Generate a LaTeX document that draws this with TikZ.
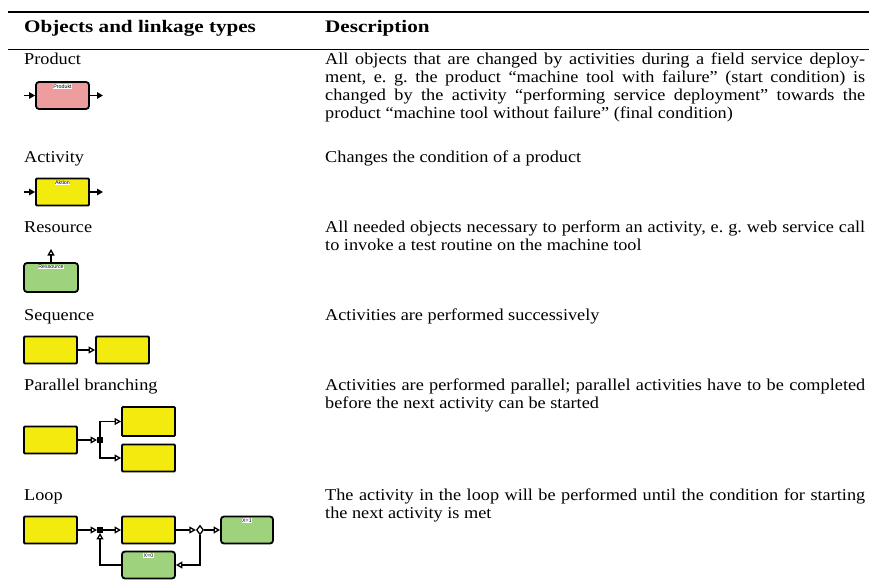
\documentclass[tikz,border=0pt]{standalone}
\usepackage{fontspec}
\setmainfont{Liberation Serif}[FakeStretch=1.1]
\newfontfamily\headfont{Liberation Serif}[FakeStretch=1.2]
\newfontfamily\labelfont{Liberation Sans}
\usetikzlibrary{arrows.meta,shapes.geometric}

\definecolor{prodpink}{RGB}{238,157,158}
\definecolor{actyellow}{RGB}{243,234,14}
\definecolor{resgreen}{RGB}{158,210,124}

\newcommand{\jline}[1]{\makebox[540pt][s]{#1}}

\tikzset{
  body/.style={anchor=base west, inner sep=0pt, font=\fontsize{16.6}{18}\selectfont\frenchspacing},
  head/.style={anchor=base west, inner sep=0pt, font=\fontsize{17.6}{18}\headfont\bfseries},
  actbox/.style={draw=black, line width=1.8pt, fill=actyellow, minimum width=53pt, minimum height=27pt, inner sep=0pt, rounded corners=1pt},
  prodbox/.style={actbox, fill=prodpink, rounded corners=3pt},
  resbox/.style={actbox, fill=resgreen, rounded corners=3pt},
  tag/.style={fill=white, inner sep=0.4pt, font=\fontsize{5.3}{5.5}\selectfont\labelfont},
  link/.style={line width=1.4pt},
  openarrow/.style={link, -{Triangle[open, length=6.5pt, width=7pt, line width=1.3pt]}},
  fillarrow/.style={link, -{Triangle[length=6pt, width=6.5pt]}},
  andjoin/.style={fill=black, minimum size=5.5pt, inner sep=0pt},
  xorjoin/.style={draw=black, fill=white, line width=1.3pt, diamond, minimum width=7pt, minimum height=9pt, inner sep=0pt},
}

\begin{document}
\begin{tikzpicture}[x=1pt, y=-1pt]
\useasboundingbox (0,0) rectangle (869,585);

% table rules and column heads
\coordinate (ruleAl) at (8,12.5);
\coordinate (ruleAr) at (869,12.5);
\coordinate (ruleBl) at (8,49.5);
\coordinate (ruleBr) at (869,49.5);
\draw[line width=2pt] (ruleAl) -- (ruleAr);
\draw[line width=1.4pt] (ruleBl) -- (ruleBr);
\node[head] (h1) at (24,33) {Objects and linkage types};
\node[head] (h2) at (325,33) {Description};

% left column labels
\node[body] (lProd) at (24,65) {Product};
\node[body] (lAct) at (24,163) {Activity};
\node[body] (lRes) at (24,233) {Resource};
\node[body] (lSeq) at (24,320) {Sequence};
\node[body] (lPar) at (24,390) {Parallel branching};
\node[body] (lLoop) at (24,500) {Loop};

% descriptions
\node[body] (d1a) at (325,65) {\jline{All objects that are changed by activities during a field service deploy-}};
\node[body] (d1b) at (325,83) {\jline{ment, e. g. the product “machine tool with failure” (start condition) is}};
\node[body] (d1c) at (325,101) {\jline{changed by the activity “performing service deployment” towards the}};
\node[body] (d1d) at (325,119) {product “machine tool without failure” (final condition)};
\node[body] (d2) at (325,163) {Changes the condition of a product};
\node[body] (d3a) at (325,233) {\jline{All needed objects necessary to perform an activity, e. g. web service call}};
\node[body] (d3b) at (325,251) {to invoke a test routine on the machine tool};
\node[body] (d4) at (325,320) {Activities are performed successively};
\node[body] (d5a) at (325,390) {\jline{Activities are performed parallel; parallel activities have to be completed}};
\node[body] (d5b) at (325,408) {before the next activity can be started};
\node[body] (d6a) at (325,500) {\jline{The activity in the loop will be performed until the condition for starting}};
\node[body] (d6b) at (325,518) {the next activity is met};

% product
\node[prodbox] (prod) at (62.5,95.5) {};
\node[tag] (prodtag) at ([yshift=-5.5pt]prod.north) {Produkt};
\coordinate (prodin) at (24,95.5);
\coordinate (prodout) at (103,95.5);
\draw[fillarrow] (prodin) -- (prod.west);
\draw[fillarrow] (prod.east) -- (prodout);

% activity
\node[actbox] (act) at (62.5,192) {};
\node[tag] (acttag) at ([yshift=-5.5pt]act.north) {Aktion};
\coordinate (actin) at (24,192);
\coordinate (actout) at (103,192);
\draw[fillarrow] (actin) -- (act.west);
\draw[fillarrow] (act.east) -- (actout);

% resource
\node[resbox, minimum width=54pt, minimum height=29pt] (res) at (51,277.5) {};
\node[tag] (restag) at ([yshift=-5pt]res.north) {Ressource};
\coordinate (resup) at (51,249);
\draw[openarrow] (res.north) -- (resup);

% sequence
\node[actbox] (seqA) at (50.5,350) {};
\node[actbox] (seqB) at (122.5,350) {};
\draw[openarrow] (seqA) -- (seqB);

% parallel branching
\node[actbox] (parA) at (50.5,440) {};
\node[actbox, minimum height=29pt] (parB) at (148.5,421.5) {};
\node[actbox] (parC) at (148.5,458) {};
\node[andjoin] (parJ) at (100,440) {};
\draw[openarrow] (parA) -- (parJ);
\draw[openarrow] (parJ) |- (parB.west);
\draw[openarrow] (parJ) |- (parC.west);

% loop
\node[actbox] (loopA) at (50.5,530) {};
\node[andjoin] (loopJ) at (100,530) {};
\node[actbox] (loopB) at (148.5,530) {};
\node[xorjoin] (loopX) at (200,530) {};
\node[resbox, minimum width=52pt] (loopC) at (247,530) {};
\node[tag] (loopCtag) at ([yshift=-5pt]loopC.north) {X=1};
\node[resbox] (loopD) at (148.5,565) {};
\node[tag] (loopDtag) at ([yshift=-5pt]loopD.north) {X=0};
\draw[openarrow] (loopA) -- (loopJ);
\draw[openarrow] (loopJ) -- (loopB);
\draw[openarrow] (loopB) -- (loopX);
\draw[openarrow] (loopX) -- (loopC);
\draw[openarrow] (loopX) |- (loopD.east);
\draw[openarrow] (loopD.west) -| (loopJ);
\end{tikzpicture}
\end{document}
